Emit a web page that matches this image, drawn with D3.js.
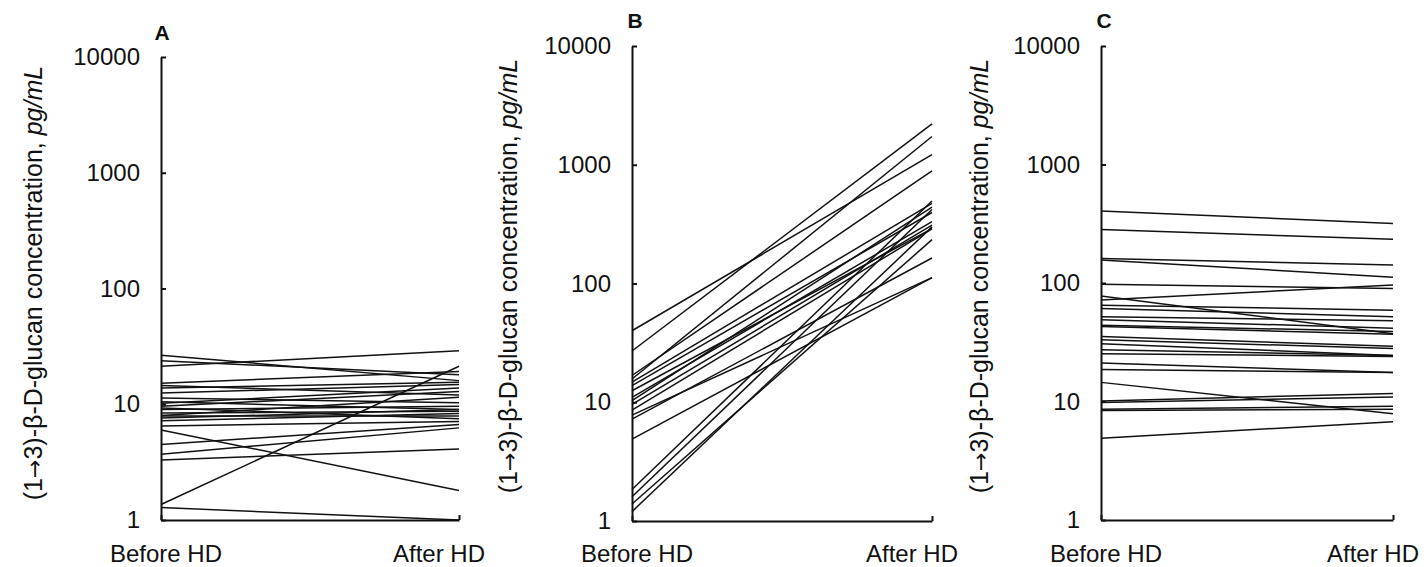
<!DOCTYPE html>
<html>
<head>
<meta charset="utf-8">
<script src="https://cdn.jsdelivr.net/npm/d3@7"></script>
<style>
  html, body { margin: 0; padding: 0; background: #fff; }
  svg { display: block; }
  text { font-family: "Liberation Sans", Arial, sans-serif; fill: #111; }
</style>
</head>
<body>
<svg id="chart" width="1424" height="567"></svg>
<script>
// ---- data ----
const categories = ["Before HD", "After HD"];
const yTickValues = [1, 10, 100, 1000, 10000];
const panelLetters = ["A", "B", "C"];
const yTitleParts = ["(1", "\u2192", "3)-\u03B2-D-glucan concentration, "];
const yTitleUnit = "pg/mL";

const beforeA = [26.5, 23.8, 21.3, 15.2, 13.8, 12.5, 11.3, 10.2, 9.6, 9.0, 8.4, 7.9, 7.6, 6.5, 6.0, 4.5, 3.7, 3.3, 1.36, 1.28, 8.0, 9.3, 7.2, 14.5, 10.5];
const afterA  = [16.0, 18.0, 29.0, 19.2, 15.5, 14.8, 10.3, 13.8, 12.9, 9.6, 8.7, 7.9, 9.0, 7.1, 1.8, 6.7, 6.25, 4.1, 21.3, 1.0, 11.5, 7.5, 8.3, 12.0, 9.0];

const beforeB = [40, 27, 16.8, 15.7, 14.8, 13.8, 12.5, 11, 10.3, 9.6, 8.6, 7.8, 7.2, 4.9, 1.84, 1.6, 1.39, 1.2];
const afterB  = [1217, 2210, 887, 1730, 472, 396, 290, 332, 440, 310, 289, 112, 164, 112, 495, 420, 234, 300];

const beforeC = [405, 283, 161, 156, 97.5, 77.8, 72, 65, 61, 52, 49, 44, 43, 35.4, 33.2, 30.7, 27.4, 25.3, 21.1, 18.6, 14.5, 10.1, 9.8, 8.6, 8.4, 4.9];
const afterC  = [318, 234, 142, 112, 90, 37.3, 96, 59, 52, 48, 41.6, 39, 37, 29.2, 28, 24.5, 24.5, 24, 17.6, 17.6, 7.9, 11.7, 10.9, 9.1, 8.6, 6.75];

const panelData = [[beforeA, afterA], [beforeB, afterB], [beforeC, afterC]];

// ---- layout ----
const layout = [
  { x0: 161, x1: 459, yTop: 57, yBottom: 520, titleX: 33, titleY: 283, letterX: 162, letterY: 40 },
  { x0: 632, x1: 932, yTop: 46, yBottom: 521, titleX: 508, titleY: 276, letterX: 635, letterY: 28 },
  { x0: 1101, x1: 1393, yTop: 46, yBottom: 520, titleX: 979, titleY: 276, letterX: 1104, letterY: 28 }
];
const fontSize = 24;
const titleSize = 25;
const labelOffset = { "Before HD": 5, "After HD": -20 };

const svg = d3.select("#chart");

layout.forEach((L, i) => {
  const g = svg.append("g");
  const x = d3.scalePoint().domain(categories).range([L.x0, L.x1]);
  const y = d3.scaleLog().domain([1, 10000]).range([L.yBottom, L.yTop]);

  // y axis (ticks point inward)
  const yAxis = d3.axisLeft(y)
    .tickValues(yTickValues)
    .tickFormat(d3.format("d"))
    .tickSizeInner(-5)
    .tickSizeOuter(0)
    .tickPadding(21);
  const ya = g.append("g").attr("transform", `translate(${L.x0},0)`).call(yAxis);
  ya.select(".domain").attr("stroke", "#111").attr("stroke-width", 2);
  ya.selectAll(".tick line").attr("stroke", "#111").attr("stroke-width", 2);
  ya.selectAll(".tick text")
    .style("font-family", '"Liberation Sans", Arial, sans-serif')
    .style("font-size", fontSize + "px")
    .attr("fill", "#111");

  // x axis (small upward end tick)
  const xAxis = d3.axisBottom(x).tickSizeInner(-5).tickSizeOuter(0).tickFormat("");
  const xa = g.append("g").attr("transform", `translate(0,${L.yBottom})`).call(xAxis);
  xa.select(".domain").attr("stroke", "#111").attr("stroke-width", 2);
  xa.selectAll(".tick line").attr("stroke", "#111").attr("stroke-width", 2);

  // x labels
  g.selectAll("text.xlab").data(categories).enter().append("text")
    .attr("class", "xlab")
    .attr("x", d => x(d) + labelOffset[d])
    .attr("y", 562)
    .attr("text-anchor", "middle")
    .style("font-size", fontSize + "px")
    .text(d => d);

  // lines
  const [bef, aft] = panelData[i];
  const pairs = bef.map((b, k) => [b, aft[k]]);
  const line = d3.line().x((d, j) => x(categories[j])).y(d => y(d));
  g.append("g").selectAll("path").data(pairs).enter().append("path")
    .attr("d", d => line(d))
    .attr("fill", "none")
    .attr("stroke", "#111")
    .attr("stroke-width", 1.5);

  // y title
  const t = g.append("text")
    .attr("transform", `translate(${L.titleX},${L.titleY}) rotate(-90)`)
    .attr("text-anchor", "middle")
    .attr("dy", "0.35em")
    .style("font-size", titleSize + "px");
  t.append("tspan").text(yTitleParts[0]);
  t.append("tspan").style("font-family", '"DejaVu Sans", sans-serif').style("font-size", (titleSize - 3) + "px").text(yTitleParts[1]);
  t.append("tspan").text(yTitleParts[2]);
  t.append("tspan").style("font-style", "italic").text(yTitleUnit);

  // panel letter
  g.append("text")
    .attr("x", L.letterX)
    .attr("y", L.letterY)
    .attr("text-anchor", "middle")
    .style("font-size", "21px")
    .style("font-weight", "bold")
    .text(panelLetters[i]);
});
</script>
</body>
</html>
